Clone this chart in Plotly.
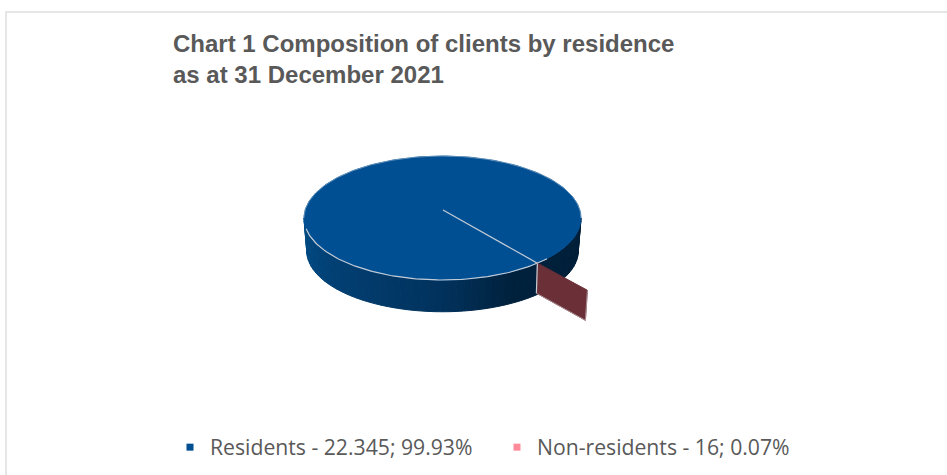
import math
import plotly.graph_objects as go

# Clients by residence at year end
categories = ["Residents", "Non-residents"]
client_counts = [22345, 16]
count_labels = ["22.345", "16"]
share_labels = ["99.93%", "0.07%"]
legend_colors = ["#004F93", "#FF8A9A"]

TITLE = "Chart 1 Composition of clients by residence<br>as at 31 December 2021"

# Projection of the tilted disc onto the page, in pixel units
WIDTH, HEIGHT = 947, 475
RIM_CX, RIM_CY, RIM_RX, RIM_RY = 442.5, 218.0, 138.5, 62.0
APEX_X, APEX_Y = 443.0, 210.0
DEPTH = 33.0
BASE_SHRINK = 0.98
FIRST_ANGLE = -46.5   # rim angle where the Non-residents slice begins
EXPLODE_X, EXPLODE_Y = 0.53, 0.51

TOP_COLOR = "#004F93"
WALL_COLOR = "#6B2F37"
EDGE_COLOR = "#C3CCD6"
SIDE_STOPS = [(180, (0, 76, 134)), (225, (2, 62, 113)), (270, (1, 50, 92)),
              (300, (0, 33, 60)), (360, (0, 30, 56))]


def rim(deg):
    a = math.radians(deg)
    return RIM_CX + RIM_RX * math.cos(a), RIM_CY - RIM_RY * math.sin(a)


def base(deg):
    a = math.radians(deg)
    return (RIM_CX + BASE_SHRINK * RIM_RX * math.cos(a),
            RIM_CY + DEPTH - BASE_SHRINK * RIM_RY * math.sin(a))


def side_color(deg):
    for (a0, c0), (a1, c1) in zip(SIDE_STOPS, SIDE_STOPS[1:]):
        if a0 <= deg <= a1:
            t = (deg - a0) / (a1 - a0)
            r, g, b = (round(p + (q - p) * t) for p, q in zip(c0, c1))
            return f"rgb({r},{g},{b})"
    return f"rgb{SIDE_STOPS[-1][1]}"


fig = go.Figure()


def polygon(points, fill, line=None, width=1.0, closed=True):
    xs = [p[0] for p in points]
    ys = [p[1] for p in points]
    fig.add_trace(go.Scatter(
        x=xs + xs[:1] if closed else xs,
        y=ys + ys[:1] if closed else ys,
        mode="lines",
        fill="toself" if closed else None,
        fillcolor=fill,
        line=dict(color=line or fill, width=width),
        hoverinfo="skip",
        showlegend=False,
    ))


# Sweep of each slice, clockwise from the first angle
total = sum(client_counts)
sweep_small = 360 * client_counts[1] / total
slice_end = FIRST_ANGLE - sweep_small

# Visible cylinder wall, shaded strip by strip
step = 3
for start in range(180, 360, step):
    pts = [rim(a) for a in (start, start + step)]
    pts += [base(a) for a in (start + step, start)]
    polygon(pts, side_color(start + step / 2))

# Top face of the large slice
top_angles = [slice_end - i * (360 - sweep_small) / 240 for i in range(241)]
polygon([(APEX_X, APEX_Y)] + [rim(a) for a in top_angles], TOP_COLOR)
polygon([rim(a) for a in range(190, 320)], "rgba(0,0,0,0)", EDGE_COLOR, 1.2, closed=False)
polygon([rim(a) for a in range(0, 180)] + [rim(180)], "rgba(0,0,0,0)", "#9FBAD4", 0.6, closed=False)

# Exploded small slice, seen edge-on as a single wall
px, py = rim(slice_end)
qx = px + EXPLODE_X * (px - APEX_X)
qy = py + EXPLODE_Y * (py - APEX_Y)
polygon([(px, py), (qx, qy), (qx - 2, qy + DEPTH - 3), (px - 1, py + DEPTH - 3)], WALL_COLOR)
polygon([(px, py), (px - 1, py + DEPTH - 3)], "rgba(0,0,0,0)", EDGE_COLOR, 1.2, closed=False)
polygon([(px - 1, py + DEPTH - 3), (qx - 2, qy + DEPTH - 3), (qx, qy)], "rgba(0,0,0,0)", "#B9A5A8", 0.8, closed=False)
polygon([(APEX_X, APEX_Y), (px, py)], "rgba(0,0,0,0)", EDGE_COLOR, 1.2, closed=False)

# Legend entries
for name, count, share, color in zip(categories, count_labels, share_labels, legend_colors):
    fig.add_trace(go.Scatter(
        x=[None], y=[None], mode="markers",
        name=f"{name} - {count}; {share}",
        marker=dict(symbol="square", size=7, color=color),
    ))

fig.update_layout(
    width=WIDTH, height=HEIGHT,
    margin=dict(l=0, r=0, t=0, b=0),
    paper_bgcolor="white", plot_bgcolor="white",
    showlegend=True,
    legend=dict(
        orientation="h", x=170 / WIDTH, xanchor="left", y=0.015, yanchor="bottom",
        font=dict(family="Open Sans", size=21.2, color="#595959"),
        itemsizing="trace", bgcolor="rgba(0,0,0,0)",
        entrywidth=282, entrywidthmode="pixels",
    ),
    title=dict(
        text=TITLE, x=173 / WIDTH, xanchor="left", y=1 - 52 / HEIGHT, yanchor="middle",
        font=dict(family="Liberation Sans", size=24, color="#595959", weight="bold"),
    ),
    xaxis=dict(range=[0, WIDTH], visible=False, fixedrange=True),
    yaxis=dict(range=[HEIGHT, 0], visible=False, fixedrange=True),
    shapes=[dict(type="rect", xref="x", yref="y", x0=6, y0=12, x1=WIDTH + 20, y1=HEIGHT + 20,
                 line=dict(color="#DEDEDE", width=1.5), layer="below")],
)

fig.write_html("out.html")
